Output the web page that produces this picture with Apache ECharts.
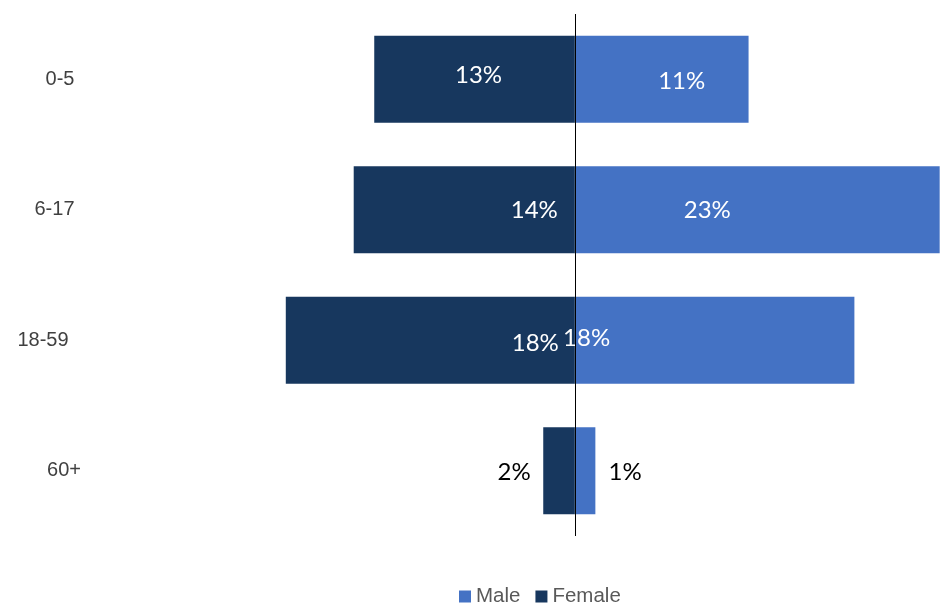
<!DOCTYPE html>
<html>
<head>
<meta charset="utf-8">
<script src="https://cdn.jsdelivr.net/npm/echarts@6/dist/echarts.min.js"></script>
<style>html,body{margin:0;padding:0;background:#fff}#c{width:947px;height:606px}</style>
</head>
<body>
<div id="c"></div>
<script>
var categories = ['0-5', '6-17', '18-59', '60+'];
var maleValues = [11.0, 23.1, 17.7, 1.3];
var femaleValues = [12.7, 14.0, 18.3, 2.0];

var maleLabelStyle = [
  {offset: [20, 2], color: '#fff'},
  {offset: [-50, 1], color: '#fff'},
  {offset: [-128, -2], color: '#fff'},
  {offset: [40, 2], color: '#000'}
];
var femaleLabelStyle = [
  {offset: [4, -4], color: '#fff'},
  {offset: [70, 1], color: '#fff'},
  {offset: [105, 3], color: '#fff'},
  {offset: [-45, 2], color: '#000'}
];
var categoryPadding = [[1, 0, 0, 6], [2, 5, 0, 0], [2, 28, 0, 0], [2, 0, 0, 14]];

function fmt(p) { return Math.round(Math.abs(p.value)) + '%'; }

var chart = echarts.init(document.getElementById('c'));
chart.setOption({
  animation: false,
  grid: {left: 101, right: 1, top: 14, bottom: 70, containLabel: false, outerBoundsMode: 'none'},
  legend: {
    bottom: -6, left: 454, itemWidth: 12, itemHeight: 12, itemGap: 15,
    icon: 'rect',
    textStyle: {fontFamily: 'Liberation Sans', fontSize: 20.5, color: '#595959'},
    data: ['Male', 'Female']
  },
  xAxis: {
    type: 'value', min: -30, max: 23.5, show: false
  },
  yAxis: {
    type: 'category', inverse: true,
    data: categories.map(function (c, i) {
      return {value: c, textStyle: {
        padding: categoryPadding[i], align: 'center',
        fontFamily: 'Liberation Sans', fontSize: 20, color: '#404040'
      }};
    }),
    axisLine: {show: false}, axisTick: {show: false},
    axisLabel: {margin: 44, align: 'center', fontFamily: 'Liberation Sans', fontSize: 20, color: '#404040'}
  },
  series: [
    {
      name: 'Male', type: 'bar', stack: 'total', barCategoryGap: '33.3%',
      itemStyle: {color: '#4472c4'},
      label: {show: true, position: 'inside', formatter: fmt, fontFamily: 'Lato', fontSize: 24},
      data: maleValues.map(function (v, i) {
        return {value: v, label: maleLabelStyle[i]};
      }),
      markLine: {
        silent: true, symbol: 'none', label: {show: false},
        lineStyle: {color: '#000', width: 1, type: 'solid'},
        data: [{xAxis: 0}]
      },
      z: 2
    },
    {
      name: 'Female', type: 'bar', stack: 'total',
      itemStyle: {color: '#17375e'},
      label: {show: true, position: 'inside', formatter: fmt, fontFamily: 'Lato', fontSize: 24},
      data: femaleValues.map(function (v, i) {
        return {value: -v, label: femaleLabelStyle[i]};
      }),
      z: 2
    }
  ]
});
</script>
</body>
</html>
